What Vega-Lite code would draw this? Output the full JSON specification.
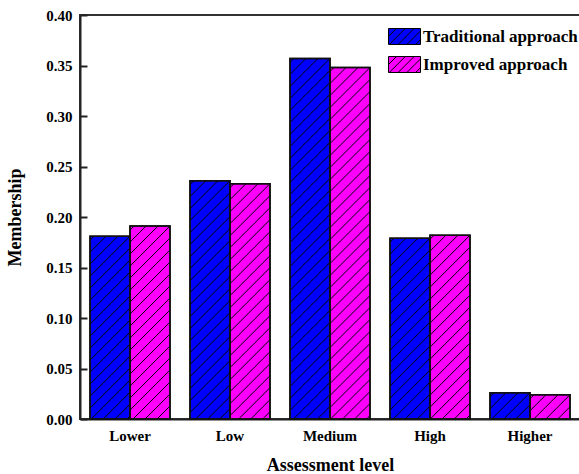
{
  "$schema": "https://vega.github.io/schema/vega-lite/v6.json",
  "width": 500,
  "height": 404,
  "autosize": {"type": "none"},
  "padding": {"left": 80, "top": 15, "right": 0, "bottom": 55},
  "config": {
    "font": "Liberation Serif",
    "view": {"stroke": "#333333", "strokeWidth": 2},
    "axis": {
      "labelFont": "Liberation Serif",
      "labelFontWeight": "bold",
      "labelFontSize": 15,
      "labelColor": "#000000",
      "titleFont": "Liberation Serif",
      "titleFontWeight": "bold",
      "titleFontSize": 18,
      "titleColor": "#000000",
      "domainColor": "#222222",
      "domainWidth": 2,
      "grid": false
    }
  },
  "data": {
    "values": [
      {"level": "Lower", "approach": "Traditional approach", "membership": 0.181},
      {"level": "Lower", "approach": "Improved approach", "membership": 0.191},
      {"level": "Low", "approach": "Traditional approach", "membership": 0.236},
      {"level": "Low", "approach": "Improved approach", "membership": 0.233},
      {"level": "Medium", "approach": "Traditional approach", "membership": 0.357},
      {"level": "Medium", "approach": "Improved approach", "membership": 0.348},
      {"level": "High", "approach": "Traditional approach", "membership": 0.179},
      {"level": "High", "approach": "Improved approach", "membership": 0.182},
      {"level": "Higher", "approach": "Traditional approach", "membership": 0.026},
      {"level": "Higher", "approach": "Improved approach", "membership": 0.024}
    ]
  },
  "encoding": {
    "x": {
      "field": "level",
      "type": "nominal",
      "sort": ["Lower", "Low", "Medium", "High", "Higher"],
      "scale": {"paddingInner": 0.2, "paddingOuter": 0.1},
      "axis": {
        "title": "Assessment level",
        "labelAngle": 0,
        "ticks": false,
        "labelPadding": 9,
        "titlePadding": 13
      }
    },
    "xOffset": {
      "field": "approach",
      "sort": ["Traditional approach", "Improved approach"]
    },
    "y": {
      "field": "membership",
      "type": "quantitative",
      "scale": {"domain": [0, 0.4], "nice": false},
      "axis": {
        "title": "Membership",
        "values": [0, 0.05, 0.1, 0.15, 0.2, 0.25, 0.3, 0.35, 0.4],
        "format": ".2f",
        "tickSize": -7,
        "tickWidth": 2,
        "tickColor": "#222222",
        "labelPadding": 15,
        "titlePadding": 21
      }
    }
  },
  "layer": [
    {
      "mark": {"type": "bar", "stroke": "#111111", "strokeWidth": 1.5},
      "encoding": {
        "color": {
          "field": "approach",
          "type": "nominal",
          "sort": ["Traditional approach", "Improved approach"],
          "scale": {
            "domain": ["Traditional approach", "Improved approach"],
            "range": ["#0000FF", "#FF00FF"]
          },
          "legend": {
            "title": null,
            "orient": "none",
            "legendX": 316,
            "legendY": 13,
            "padding": 0,
            "symbolType": "M-2,-1H2V1H-2ZM-2,0L-1,-1M-1.9,1L0.1,-1M-0.8,1L1.2,-1M0.3,1L2,-0.7M1.4,1L2,0.4",
            "symbolSize": 256,
            "symbolStrokeColor": "#000000",
            "symbolStrokeWidth": 1,
            "symbolOpacity": 1,
            "labelFont": "Liberation Serif",
            "labelFontWeight": "bold",
            "labelFontSize": 17,
            "labelColor": "#000000",
            "labelOffset": 10,
            "rowPadding": 7,
            "labelLimit": 300
          }
        }
      }
    },
    {
      "mark": {
        "type": "point",
        "shape": "M-1,0.2L-0.8,0M-1,0.8L-0.2,0M-1,1.4L0.4,0M-1,2L1,0M-1,2.6L1,0.6M-1,3.2L1,1.2M-1,3.8L1,1.8M-1,4.4L1,2.4M-1,5L1,3M-1,5.6L1,3.6M-1,6.2L1,4.2M-1,6.8L1,4.8M-1,7.4L1,5.4M-1,8L1,6M-1,8.6L1,6.6M-1,9.2L1,7.2M-1,9.8L1,7.8M-1,10.4L1,8.4M-1,11L1,9M-1,11.6L1,9.6M-1,12.2L1,10.2M-1,12.8L1,10.8M-1,13.4L1,11.4M-1,14L1,12M-1,14.6L1,12.6M-1,15.2L1,13.2M-1,15.8L1,13.8M-1,16.4L1,14.4M-1,17L1,15M-1,17.6L1,15.6M-1,18.2L1,16.2M-1,18.8L1,16.8M-1,19.4L1,17.4M-1,20L1,18M-1,20.6L1,18.6M-1,21.2L1,19.2M-1,21.8L1,19.8M-1,22.4L1,20.4M-1,23L1,21",
        "size": 1600,
        "filled": false,
        "stroke": "#000000",
        "strokeWidth": 1,
        "opacity": 1,
        "clip": true
      }
    },
    {
      "mark": {"type": "bar", "fillOpacity": 0, "stroke": "#111111", "strokeWidth": 1.5}
    }
  ]
}
